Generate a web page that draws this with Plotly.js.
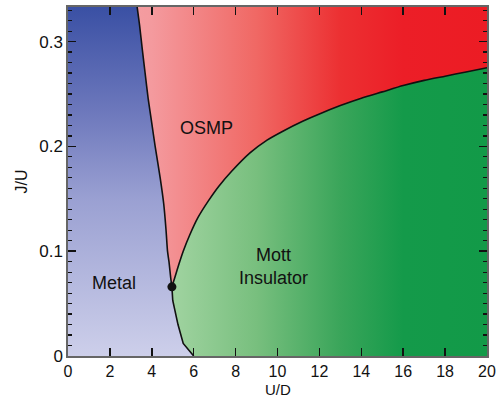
<!DOCTYPE html>
<html>
<head>
<meta charset="utf-8">
<script src="https://cdn.plot.ly/plotly-3.0.1.min.js"></script>
<style>html,body{margin:0;padding:0;background:#fff;}#chart{width:498px;height:397px;}</style>
</head>
<body>
<div id="chart"></div>
<script>
// Phase boundaries (U/D, J/U)
const metalOsmpU = [4.96, 4.9, 4.82, 4.75, 4.68, 4.57, 4.4, 4.16, 4.0, 3.83, 3.68, 3.55, 3.42, 3.3];
const metalOsmpJ = [0.066, 0.075, 0.09, 0.10, 0.12, 0.145, 0.17, 0.20, 0.222, 0.245, 0.27, 0.292, 0.315, 0.333];
const metalMottU = [6.0, 5.5, 5.25, 5.0, 4.96];
const metalMottJ = [0.0, 0.012, 0.03, 0.053, 0.066];
const osmpMottU = [4.96, 5.1, 5.3, 5.5, 5.8, 6.2, 6.7, 7.2, 7.8, 8.7, 9.5, 10.3, 11.2, 12.0, 13.0, 14.0, 15.0, 16.0, 17.0, 18.0, 19.0, 20.0];
const osmpMottJ = [0.066, 0.075, 0.088, 0.100, 0.115, 0.132, 0.148, 0.162, 0.176, 0.194, 0.206, 0.215, 0.224, 0.231, 0.239, 0.246, 0.252, 0.258, 0.263, 0.267, 0.271, 0.275];
const criticalU = [4.96];
const criticalJ = [0.066];
const xTickStep = 2;
const yTickStep = 0.1;
const yMinorStep = 0.01;
const phaseLabels = ['OSMP', 'Metal', 'Mott<br>Insulator'];
const labelU = [6.6, 2.2, 9.8];
const labelJ = [0.218, 0.07, 0.085];
const xTitle = 'U/D', yTitle = 'J/U';

const xMax = 20, yMax = 0.333;

const osmp = {
  x: [0, xMax, xMax, 0, 0], y: [0, 0, yMax, yMax, 0],
  type: 'scatter', mode: 'none', fill: 'toself',
  fillcolor: '#f07070',
  fillgradient: {type: 'horizontal', start: 0, stop: xMax,
    colorscale: [[0, '#f6a8ac'], [0.2, '#f49a9e'], [0.45, '#f06864'], [0.65, '#ec3032'], [0.8, '#ec1e27'], [1, '#ec1c24']]}
};
const mottX = [...metalMottU, ...osmpMottU.slice(1), xMax, metalMottU[0]];
const mottY = [...metalMottJ, ...osmpMottJ.slice(1), 0, metalMottJ[0]];
const mott = {
  x: mottX, y: mottY, type: 'scatter', mode: 'none', fill: 'toself',
  fillcolor: '#60b070',
  fillgradient: {type: 'horizontal', start: 0, stop: xMax,
    colorscale: [[0, '#b0dcaa'], [0.25, '#a0d3a0'], [0.45, '#78bf7e'], [0.65, '#3aa55a'], [0.8, '#149a4a'], [1, '#129a48']]}
};
const metalX = [0, ...metalMottU, ...metalOsmpU.slice(1), 0, 0];
const metalY = [0, ...metalMottJ, ...metalOsmpJ.slice(1), yMax, 0];
const metal = {
  x: metalX, y: metalY, type: 'scatter', mode: 'none', fill: 'toself',
  fillcolor: '#8088c4',
  fillgradient: {type: 'vertical', start: 0, stop: yMax,
    colorscale: [[0, '#cdcfea'], [0.45, '#9aa0d2'], [0.7, '#6d78bc'], [1, '#3a50a4']]}
};
const lineStyle = {color: '#111', width: 1.6, shape: 'spline', smoothing: 0.6};
const l1 = {x: metalOsmpU, y: metalOsmpJ, type: 'scatter', mode: 'lines', line: lineStyle};
const l2 = {x: metalMottU, y: metalMottJ, type: 'scatter', mode: 'lines', line: {color: '#111', width: 1.6}};
const l3 = {x: osmpMottU, y: osmpMottJ, type: 'scatter', mode: 'lines', line: lineStyle};
const cp = {x: criticalU, y: criticalJ, type: 'scatter', mode: 'markers', marker: {color: '#111', size: 9}};

const fam = 'Liberation Sans, Arial, Helvetica, sans-serif';
const font = {family: fam, size: 18, color: '#111'};
const layout = {
  width: 498, height: 397,
  margin: {l: 68, r: 11, t: 7, b: 41},
  showlegend: false,
  font: font,
  xaxis: {
    range: [0, xMax], tickmode: 'linear', tick0: 0, dtick: xTickStep,
    ticks: 'inside', ticklen: 8, tickwidth: 1.5, tickcolor: '#111',
    showline: true, linecolor: '#666', linewidth: 1.6, mirror: 'ticks',
    showgrid: false, zeroline: false,
    tickfont: {family: fam, size: 16, color: '#111'}
  },
  yaxis: {
    range: [0, yMax], tickmode: 'linear', tick0: 0, dtick: yTickStep,
    ticks: 'inside', ticklen: 8, tickwidth: 1.5, tickcolor: '#111',
    minor: {dtick: yMinorStep, ticks: 'inside', ticklen: 4, tickcolor: '#111', tickwidth: 1.2},
    showline: true, linecolor: '#666', linewidth: 1.6, mirror: 'ticks',
    showgrid: false, zeroline: false,
    tickfont: {family: fam, size: 17, color: '#111'},
    title: {text: yTitle, font: {family: fam, size: 16, color: '#111'}, standoff: 8}
  },
  annotations: phaseLabels.map((t, i) => ({
    x: labelU[i], y: labelJ[i], text: t, showarrow: false,
    font: font, xanchor: 'center', yanchor: 'middle'
  })).concat([{
    xref: 'paper', yref: 'paper', x: 0.5, y: 0, yshift: -33, text: xTitle, showarrow: false,
    font: {family: fam, size: 15, color: '#111'}, xanchor: 'center', yanchor: 'middle'
  }])
};
Plotly.newPlot('chart', [osmp, mott, metal, l1, l2, l3, cp], layout, {displayModeBar: false, staticPlot: true});
</script>
</body>
</html>
